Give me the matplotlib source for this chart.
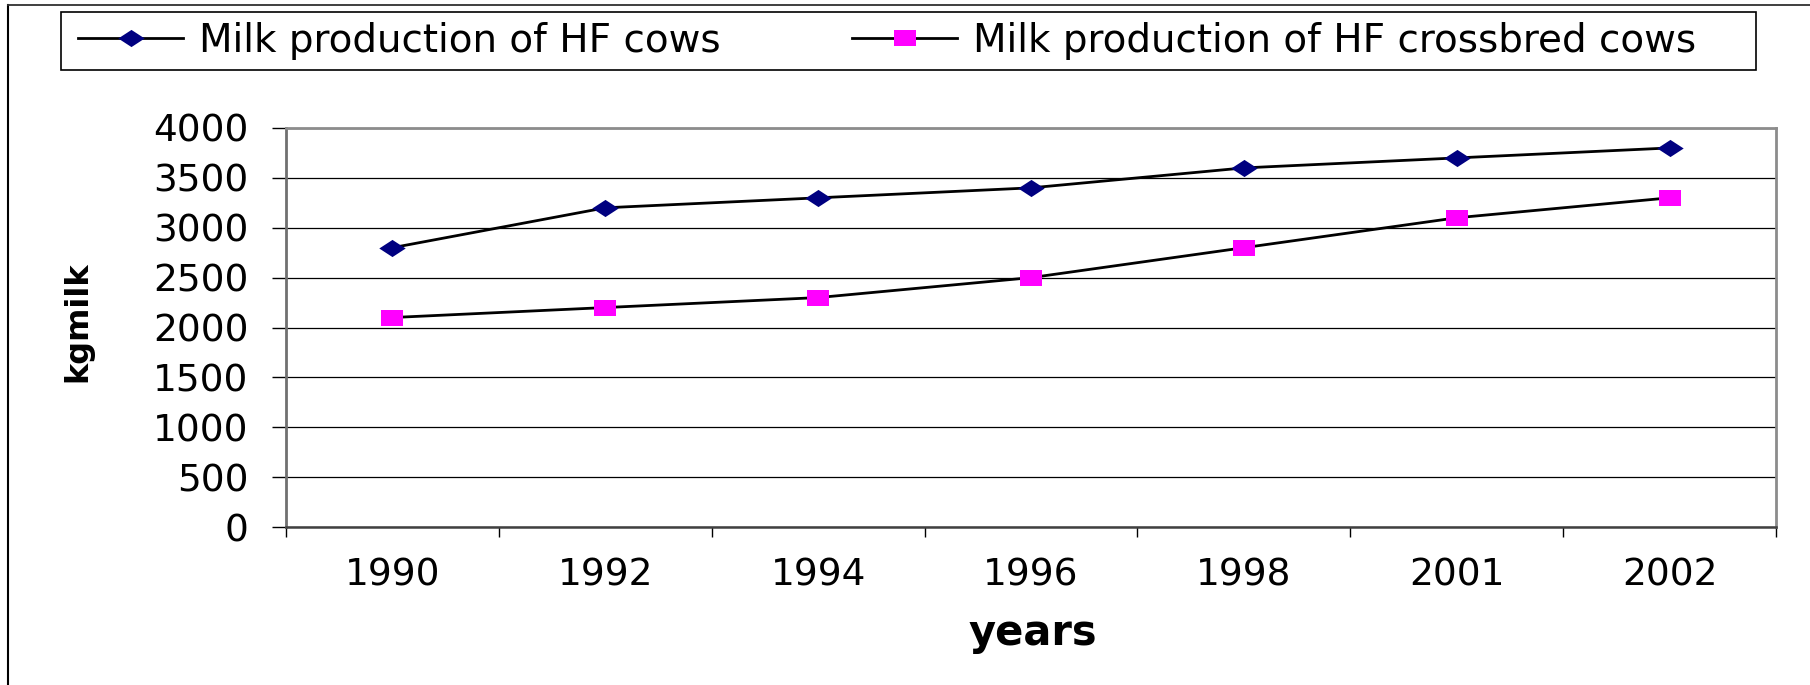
import matplotlib
matplotlib.use("Agg")
import matplotlib.pyplot as plt
from matplotlib.lines import Line2D
from matplotlib.patches import Rectangle

plt.rcParams["font.family"] = ["DejaVu Sans"]

years = ["1990", "1992", "1994", "1996", "1998", "2001", "2002"]
hf_cows = [2800, 3200, 3300, 3400, 3600, 3700, 3800]
hf_crossbred = [2100, 2200, 2300, 2500, 2800, 3100, 3300]
y_ticks = [0, 500, 1000, 1500, 2000, 2500, 3000, 3500, 4000]

# wide diamond / wide square like the old excel markers
diamond = [(-1, 0), (0, 0.65), (1, 0), (0, -0.65), (-1, 0)]
square = [(-1, -0.68), (1, -0.68), (1, 0.68), (-1, 0.68), (-1, -0.68)]

fig = plt.figure(figsize=(18.1, 6.85), dpi=100)
ax = fig.add_axes([286 / 1810, 1 - 527 / 685, (1776 - 286) / 1810, (527 - 128) / 685])

x = list(range(len(years)))
ax.plot(x, hf_cows, color="black", lw=2.0, marker=diamond, ms=19,
        mfc="#000080", mec="#000080", mew=0, label="Milk production of HF cows", zorder=3)
ax.plot(x, hf_crossbred, color="black", lw=2.0, marker=square, ms=16,
        mfc="#FF00FF", mec="#FF00FF", mew=0, label="Milk production of HF crossbred cows", zorder=3)

ax.set_xlim(-0.5, len(years) - 0.5)
ax.set_ylim(0, 4000)
ax.set_yticks(y_ticks)
ax.set_yticklabels([str(v) for v in y_ticks])
ax.yaxis.grid(True, color="black", lw=0.9)
ax.set_axisbelow(True)

ax.set_xticks([i - 0.5 for i in range(len(years) + 1)])
ax.set_xticklabels([])
ax.set_xticks(x, minor=True)
ax.set_xticklabels(years, minor=True)
ax.tick_params(axis="x", which="major", direction="out", length=7, width=1, color="black")
ax.tick_params(axis="x", which="minor", length=0, pad=22, labelsize=27)
ax.tick_params(axis="y", direction="out", length=10, width=1, pad=17, labelsize=27)

for side in ["top", "right"]:
    ax.spines[side].set_color("#8c8c8c")
    ax.spines[side].set_linewidth(2)
ax.spines["left"].set_color("#707070")
ax.spines["left"].set_linewidth(2)
ax.spines["bottom"].set_color("#404040")
ax.spines["bottom"].set_linewidth(1.8)

ax.set_xlabel("years", fontsize=30, fontweight="bold", va="center")
ax.xaxis.set_label_coords(0.501, (527 - 633) / 399)
ax.set_ylabel("kgmilk", fontsize=23, fontweight="bold", va="center")
ax.yaxis.set_label_coords((78 - 286) / 1490, (527 - 322) / 399)

# legend entries without frame, the frame is drawn as a box across the top
leg = fig.legend(loc="center left", bbox_to_anchor=(78 / 1810, 1 - 41 / 685),
                 ncol=2, fontsize=28, frameon=False, handlelength=2.7, handletextpad=0.4,
                 borderpad=0, borderaxespad=0, columnspacing=3.4)
fig.add_artist(Rectangle((61 / 1810, 1 - 70 / 685), (1756 - 61) / 1810, 58 / 685,
                         transform=fig.transFigure, fill=False, ec="black", lw=1.2))

# outer chart border (left and top only, the picture is cropped)
fig.add_artist(Line2D([8 / 1810, 8 / 1810], [0, 1 - 5 / 685], color="black", lw=1.5))
fig.add_artist(Line2D([8 / 1810, 1], [1 - 5 / 685, 1 - 5 / 685], color="#303030", lw=1.3))

fig.savefig("out.png", dpi=100)
